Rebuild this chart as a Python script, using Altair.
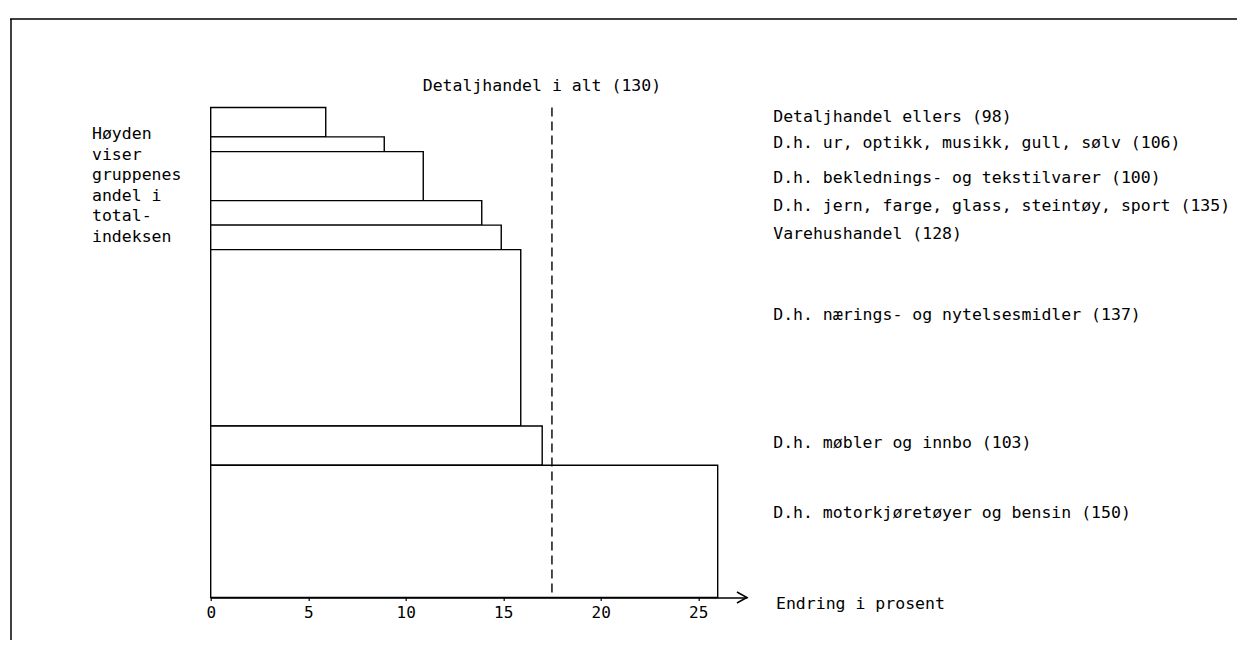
import altair as alt
import pandas as pd

# ---------------- data ----------------
categories = [
    "Detaljhandel ellers (98)",
    "D.h. ur, optikk, musikk, gull, sølv (106)",
    "D.h. beklednings- og tekstilvarer (100)",
    "D.h. jern, farge, glass, steintøy, sport (135)",
    "Varehushandel (128)",
    "D.h. nærings- og nytelsesmidler (137)",
    "D.h. møbler og innbo (103)",
    "D.h. motorkjøretøyer og bensin (150)",
]
change_pct = [5.9, 8.9, 10.9, 13.9, 14.9, 15.9, 17.0, 26.0]   # bar length
weight_pct = [6, 3, 10, 5, 5, 36, 8, 27]                     # bar height (share of total index)
total_change = 17.5
total_label = "Detaljhandel i alt (130)"
x_ticks = [0, 5, 10, 15, 20, 25]
x_max = 27.5
axis_title = "Endring i prosent"
height_note = ["Høyden", "viser", "gruppenes", "andel i", "total-", "indeksen"]

# ---------------- layout (pixels) ----------------
FONT = "DejaVu Sans Mono"
FS = 16.5
W, H = 536.25, 490
PX_PER_UNIT_Y = H / 100.0
PAD = {"left": 202.7, "top": 99.5, "right": 490.05, "bottom": 42.5}
label_dy = [-5.6, -1.1, 2.2, -7.1, -3.7, -22.7, -2.5, -18.2]   # pixel nudges of the labels
LABEL_X = 562.5

df = pd.DataFrame({"cat": categories, "change": change_pct, "w": weight_pct})
df["dy"] = label_dy
rev = df.iloc[::-1].copy()
rev["y1"] = rev["w"].cumsum()
rev["y0"] = rev["y1"] - rev["w"]
df = rev.iloc[::-1].reset_index(drop=True)

xs = alt.Scale(domain=[0, x_max], nice=False, zero=False)
ys = alt.Scale(domain=[0, 100], nice=False, zero=False)

base = alt.Chart(df)

bars = base.mark_rect(fill="white", stroke="black", strokeWidth=1.4).encode(
    x=alt.X("change:Q", scale=xs,
            axis=alt.Axis(values=x_ticks, title=None, grid=False, domainColor="black",
                          domainWidth=1.4, tickColor="black", tickSize=3, tickWidth=1.2,
                          labelFont=FONT, labelFontSize=16, labelColor="black",
                          labelPadding=4, labelFlush=False)),
    x2=alt.X2Datum(0),
    y=alt.Y("y0:Q", scale=ys, axis=None),
    y2="y1:Q",
)

labels = base.transform_calculate(
    ly=f"(datum.y0 + datum.y1) / 2 - datum.dy / {PX_PER_UNIT_Y}"
).mark_text(align="left", baseline="middle", font=FONT, fontSize=FS,
            color="black").encode(
    x=alt.value(LABEL_X),
    y=alt.Y("ly:Q", scale=ys),
    text="cat:N",
)

tot = pd.DataFrame({"v": [total_change], "t": [total_label]})
dashed = alt.Chart(tot).mark_rule(color="black", strokeDash=[9, 5], strokeWidth=1.4).encode(
    x=alt.X("v:Q", scale=xs), y=alt.value(0), y2=alt.value(H)
)
dashed_text = alt.Chart(tot).mark_text(align="center", baseline="middle", font=FONT,
                                       fontSize=FS, color="black", dx=-10).encode(
    x=alt.X("v:Q", scale=xs), y=alt.value(-21.5), text="t:N"
)

arrow = alt.Chart(pd.DataFrame({"x": [x_max], "y": [0]})).mark_point(
    shape="M-1,-0.55L0,0L-1,0.55", size=400, filled=False, stroke="black",
    strokeWidth=1.5, opacity=1
).encode(x=alt.X("x:Q", scale=xs), y=alt.Y("y:Q", scale=ys))

title_x = alt.Chart(pd.DataFrame({"t": [axis_title]})).mark_text(
    align="left", baseline="middle", font=FONT, fontSize=FS, color="black"
).encode(x=alt.value(565.3), y=alt.value(496.5), text="t:N")

note = alt.Chart(pd.DataFrame({"a": [0]})).mark_text(
    align="left", baseline="top", font=FONT, fontSize=FS, color="black", lineHeight=20.6
).encode(x=alt.value(-118.7), y=alt.value(18.5), text=alt.value(height_note))

# frame around the figure
frame_top = alt.Chart(pd.DataFrame({"a": [0]})).mark_rule(color="black", strokeWidth=1.5).encode(
    x=alt.value(-200.7), x2=alt.value(1034.3), y=alt.value(-88.5))
frame_left = alt.Chart(pd.DataFrame({"a": [0]})).mark_rule(color="black", strokeWidth=1.5).encode(
    x=alt.value(-199.7), y=alt.value(-88.5), y2=alt.value(545))

chart = alt.layer(
    bars, dashed, dashed_text, labels, arrow, title_x, note,
    frame_top, frame_left
).properties(
    width=W, height=H, padding=PAD,
    autosize=alt.AutoSizeParams(type="none"),
    background="white",
).configure_view(strokeWidth=0)

chart.save("out.html", embed_options={"renderer": "svg", "actions": False})
